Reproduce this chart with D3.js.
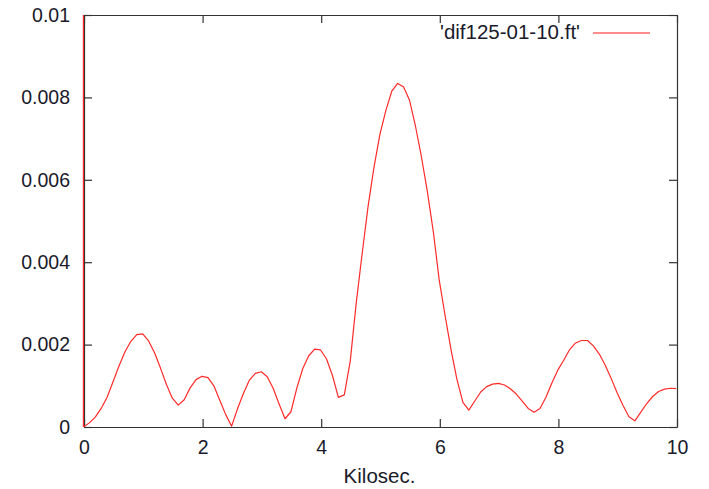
<!DOCTYPE html>
<html>
<head>
<meta charset="utf-8">
<script src="https://cdn.jsdelivr.net/npm/d3@7"></script>
<style>
  html, body { margin: 0; padding: 0; background: #fff; }
  svg { display: block; font-family: "Liberation Sans", Arial, sans-serif; }
</style>
</head>
<body>
<svg id="chart" width="709" height="489"></svg>
<script>
// ---- data ----
const seriesName = "'dif125-01-10.ft'";
const xLabel = "Kilosec.";
const xValues = [0, 0,
  0.1, 0.2, 0.3, 0.4, 0.5, 0.6, 0.7, 0.8, 0.9, 1.0,
  1.1, 1.2, 1.3, 1.4, 1.5, 1.6, 1.7, 1.8, 1.9, 2.0,
  2.1, 2.2, 2.3, 2.4, 2.5, 2.6, 2.7, 2.8, 2.9, 3.0,
  3.1, 3.2, 3.3, 3.4, 3.5, 3.6, 3.7, 3.8, 3.9, 4.0,
  4.1, 4.2, 4.3, 4.4, 4.5, 4.6, 4.7, 4.8, 4.9, 5.0,
  5.1, 5.2, 5.3, 5.4, 5.5, 5.6, 5.7, 5.8, 5.9, 6.0,
  6.1, 6.2, 6.3, 6.4, 6.5, 6.6, 6.7, 6.8, 6.9, 7.0,
  7.1, 7.2, 7.3, 7.4, 7.5, 7.6, 7.7, 7.8, 7.9, 8.0,
  8.1, 8.2, 8.3, 8.4, 8.5, 8.6, 8.7, 8.8, 8.9, 9.0,
  9.1, 9.2, 9.3, 9.4, 9.5, 9.6, 9.7, 9.8, 9.9, 10.0];
const yValues = [0.0125, 0.0,
  0.0001, 0.00024, 0.00045, 0.00072, 0.0011, 0.00148, 0.00182, 0.00208, 0.00224, 0.00226,
  0.00209, 0.0018, 0.00143, 0.00103, 0.0007, 0.00053, 0.00066, 0.00095, 0.00115, 0.00123,
  0.0012, 0.001, 0.00065, 0.0003, 0.00002, 0.00045, 0.00082, 0.00114, 0.0013, 0.00134,
  0.00122, 0.00094, 0.00056, 0.0002, 0.00037, 0.00095, 0.00142, 0.00173, 0.00189, 0.00187,
  0.00165, 0.00125, 0.00072, 0.00078, 0.0016, 0.003, 0.0042, 0.00535, 0.0063, 0.0071,
  0.00768, 0.00815, 0.00834, 0.00825, 0.00793, 0.0073, 0.00656, 0.00572, 0.00475, 0.00357,
  0.0027, 0.00187, 0.00115, 0.0006, 0.00041, 0.00063, 0.00085, 0.00098, 0.00104, 0.00106,
  0.00102, 0.00093, 0.0008, 0.00063, 0.00045, 0.00036, 0.00045, 0.00072, 0.00107, 0.00138,
  0.00162, 0.00188, 0.00204, 0.0021, 0.0021, 0.00197, 0.00177, 0.0015, 0.00118, 0.00083,
  0.00052, 0.00025, 0.00015, 0.00036, 0.00057, 0.00074, 0.00086, 0.00092, 0.00094, 0.00093];
const xTicks = [0, 2, 4, 6, 8, 10];
const xTickLabels = ["0", "2", "4", "6", "8", "10"];
const yTicks = [0, 0.002, 0.004, 0.006, 0.008, 0.01];
const yTickLabels = ["0", "0.002", "0.004", "0.006", "0.008", "0.01"];

// ---- layout ----
const margin = {left: 84, right: 32, top: 15, bottom: 62};
const W = 709, H = 489;
const iw = W - margin.left - margin.right;
const ih = H - margin.top - margin.bottom;
const svg = d3.select("#chart");
const g = svg.append("g").attr("transform", `translate(${margin.left},${margin.top})`);

const x = d3.scaleLinear().domain([0, 10]).range([0, iw]);
const y = d3.scaleLinear().domain([0, 0.01]).range([ih, 0]);

svg.append("defs").append("clipPath").attr("id", "clip")
  .append("rect").attr("x", -1.5).attr("y", 0).attr("width", iw + 1.5).attr("height", ih);

const fontSize = 19.5;
const tickCol = "#333";
function style(sel) {
  sel.selectAll(".domain").attr("stroke", tickCol).attr("stroke-width", 1.2);
  sel.selectAll(".tick line").attr("stroke", tickCol).attr("stroke-width", 1.2);
  sel.selectAll(".tick text").attr("fill", "#1a1a2a").style("font-size", fontSize + "px")
     .style("font-family", "'Liberation Sans', Arial, sans-serif");
}

const xb = g.append("g").attr("transform", `translate(0,${ih})`)
  .call(d3.axisBottom(x).tickValues(xTicks).tickFormat((d, i) => xTickLabels[i])
    .tickSizeInner(-8).tickSizeOuter(0).tickPadding(13));
style(xb);
const xt = g.append("g")
  .call(d3.axisTop(x).tickValues(xTicks).tickFormat("").tickSizeInner(-8).tickSizeOuter(0));
style(xt);
const yl = g.append("g")
  .call(d3.axisLeft(y).tickValues(yTicks).tickFormat((d, i) => yTickLabels[i])
    .tickSizeInner(-8).tickSizeOuter(0).tickPadding(14));
style(yl);
const yr = g.append("g").attr("transform", `translate(${iw},0)`)
  .call(d3.axisRight(y).tickValues(yTicks).tickFormat("").tickSizeInner(-8).tickSizeOuter(0));
style(yr);

const data = xValues.map((v, i) => ({x: v, y: yValues[i]}));
const line = d3.line().x(d => x(d.x)).y(d => y(d.y));
g.append("path").datum(data)
  .attr("clip-path", "url(#clip)")
  .attr("fill", "none")
  .attr("stroke", "#ff2a2a")
  .attr("stroke-width", 1.2)
  .attr("stroke-linejoin", "round")
  .attr("transform", "translate(-0.6,0)")
  .attr("d", line);

// x label
g.append("text").attr("x", iw / 2 - 1).attr("y", ih + 55.5)
  .attr("text-anchor", "middle").attr("fill", "#1a1a2a")
  .style("font-size", "20.5px").text(xLabel);

// legend
const lg = g.append("g");
lg.append("text").attr("x", 496).attr("y", 23.5).attr("text-anchor", "end")
  .attr("fill", "#1a1a2a").style("font-size", "20.5px").text(seriesName);
lg.append("line").attr("x1", 509).attr("x2", 566).attr("y1", 18).attr("y2", 18)
  .attr("stroke", "#ff1a1a").attr("stroke-width", 1.2);
</script>
</body>
</html>
